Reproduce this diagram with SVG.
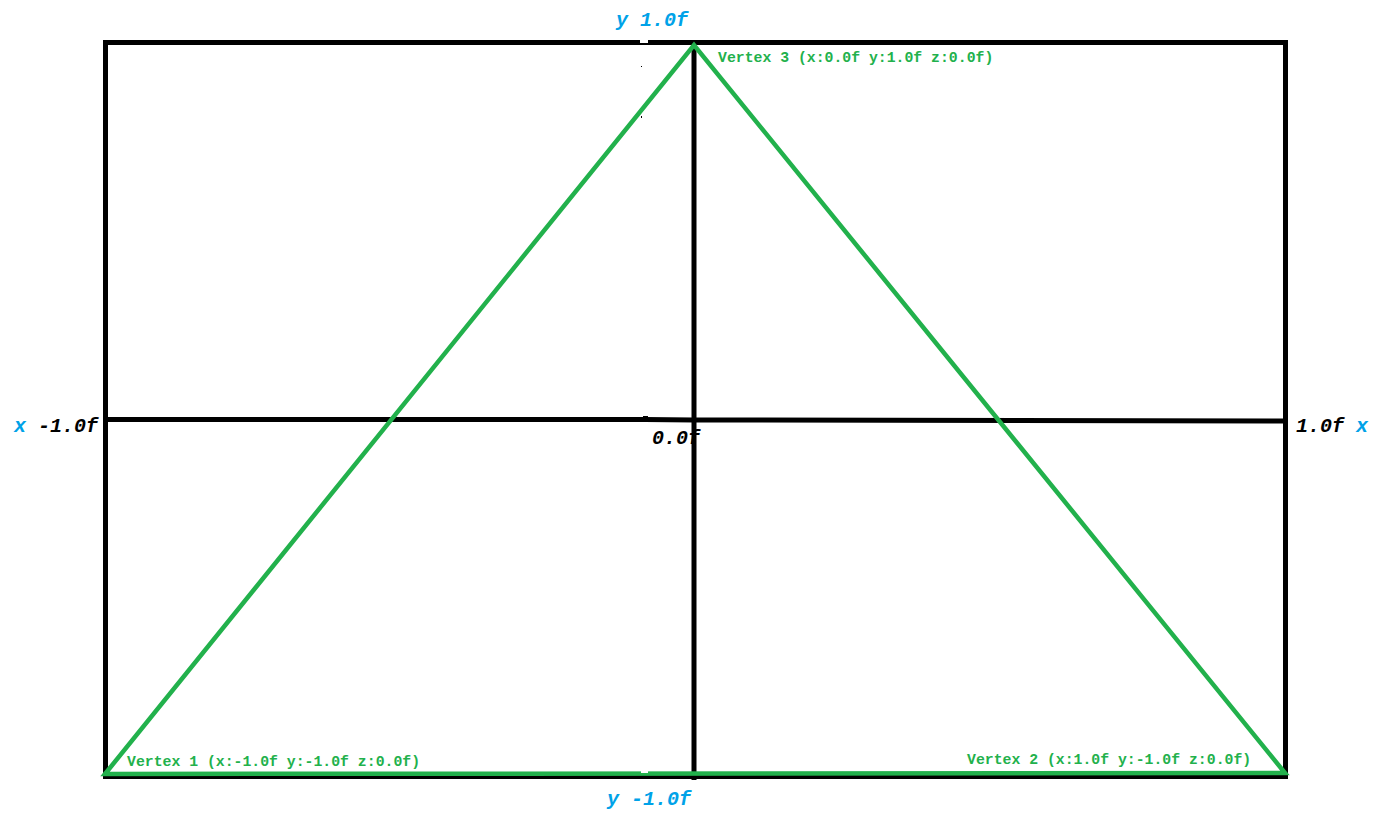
<svg xmlns="http://www.w3.org/2000/svg" width="1387" height="815" viewBox="0 0 1387 815">
<style>
.ax{stroke:#000;stroke-width:5;fill:none}
.tri{stroke:#22b14c;stroke-width:4.5;fill:none;stroke-linejoin:miter}
.vl{font-family:"Liberation Mono","DejaVu Sans Mono",monospace;font-weight:bold;font-size:14.8px;fill:#22b14c}
.al{font-family:"Liberation Mono","DejaVu Sans Mono",monospace;font-weight:bold;font-style:italic;font-size:20px}
.b{fill:#00a2e8}
.k{fill:#000}
</style>
<rect width="1387" height="815" fill="#fff"/>
<g id="axes">
<rect class="ax" x="105.5" y="42.5" width="1180" height="734"/>
<polyline class="ax" points="105,419.5 645,419.5 694,420 1285,421"/>
<line class="ax" x1="694" y1="40" x2="694" y2="780"/>
<rect x="640" y="40" width="8" height="3" fill="#fff"/>
<rect x="643" y="416" width="5" height="2" fill="#000"/>
<rect x="641" y="66" width="1" height="1" fill="#000"/>
<rect x="641" y="116" width="1" height="2" fill="#000"/>
</g>
<g id="triangle">
<polygon class="tri" points="105,774 694,45 1285,773"/>
<rect x="641" y="771" width="7" height="2" fill="#fff"/>
</g>
<g id="vertex1"><text class="vl" x="127" y="766">Vertex 1 (x:-1.0f y:-1.0f z:0.0f)</text></g>
<g id="vertex2"><text class="vl" x="967" y="764">Vertex 2 (x:1.0f y:-1.0f z:0.0f)</text></g>
<g id="vertex3"><text class="vl" x="718" y="62">Vertex 3 (x:0.0f y:1.0f z:0.0f)</text></g>
<g id="labels">
<text class="al b" x="616" y="26">y 1.0f</text>
<text class="al b" x="607" y="805">y -1.0f</text>
<text class="al" x="14" y="432"><tspan class="b">x</tspan><tspan class="k"> -1.0f</tspan></text>
<text class="al k" x="652" y="444">0.0f</text>
<text class="al" x="1296" y="432"><tspan class="k">1.0f </tspan><tspan class="b">x</tspan></text>
</g>
</svg>
